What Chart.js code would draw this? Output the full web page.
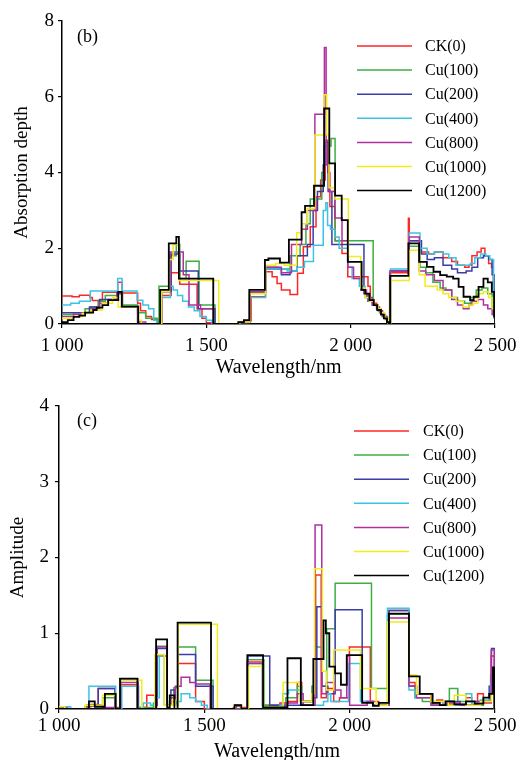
<!DOCTYPE html>
<html>
<head>
<meta charset="utf-8">
<script src="https://cdn.jsdelivr.net/npm/chart.js@4"></script>
<style>
  html, body { margin: 0; padding: 0; background: #fff; overflow: hidden; width: 516px; height: 760px; }
  canvas { position: absolute; left: 0; }
  #chart-b { top: 0; }
  #chart-c { top: 380px; }
</style>
</head>
<body>
<canvas id="chart-b" width="516" height="380"></canvas>
<canvas id="chart-c" width="516" height="390"></canvas>
<script>
const seriesNames = ["CK(0)", "Cu(100)", "Cu(200)", "Cu(400)", "Cu(800)", "Cu(1000)", "Cu(1200)"];
const seriesColors = ["#ff2626", "#3cae44", "#3a3ca8", "#3cc4e4", "#b0309e", "#f2ec1a", "#000000"];
const xTicks = [1000, 1500, 2000, 2500];

// (b) absorption depth, [wavelength nm, value] steps
const depthCK = [[1000,0.74],[1035,0.72],[1060,0.76],[1097,0.70],[1105,0.62],[1140,0.84],[1193,1.1],[1208,0.82],[1262,0.55],[1272,0.35],[1290,0.2],[1310,0.12],[1335,0],[1346,0.75],[1378,1.35],[1408,1.05],[1468,0.4],[1485,0.15],[1500,0.03],[1520,0],[1610,0.04],[1640,0.08],[1655,0.72],[1705,1.38],[1728,1.25],[1745,1.07],[1760,0.9],[1790,0.78],[1816,1.34],[1836,2.04],[1860,2.57],[1880,3.36],[1896,3.8],[1912,4.85],[1921,4.0],[1928,3.1],[1946,2.2],[1970,1.86],[1990,1.25],[2060,1.0],[2068,0.65],[2080,0.55],[2090,0.45],[2100,0.35],[2110,0.25],[2120,0.15],[2128,0.05],[2135,1.35],[2200,2.79],[2203,2.2],[2245,1.9],[2270,1.85],[2290,1.9],[2320,1.75],[2350,1.65],[2370,1.55],[2395,1.5],[2410,1.55],[2420,1.8],[2438,1.9],[2452,2.0],[2465,1.8],[2478,1.6],[2488,1.5],[2494,0.6],[2498,0.2],[2500,0.2]];
const depthCu100 = [[1000,0.25],[1040,0.3],[1080,0.4],[1100,0.45],[1125,0.6],[1150,0.75],[1190,0.85],[1210,0.5],[1262,0.3],[1290,0.15],[1330,0],[1336,1.0],[1372,1.8],[1396,2.1],[1408,1.2],[1430,1.66],[1475,0.5],[1530,0],[1615,0.05],[1650,0.85],[1705,1.5],[1750,1.45],[1790,1.8],[1825,2.1],[1845,2.65],[1860,3.3],[1900,4.0],[1908,4.7],[1932,4.9],[1946,2.2],[2078,0.5],[2090,0.4],[2100,0.3],[2110,0.2],[2120,0.12],[2130,0],[2138,1.4],[2203,2.05],[2240,1.5],[2260,1.35],[2285,1.1],[2310,0.95],[2330,0.9],[2350,0.7],[2370,0.6],[2395,0.55],[2415,0.7],[2435,0.9],[2455,0.95],[2475,0.8],[2490,0.4],[2497,0.15],[2500,0.15]];
const depthCu200 = [[1000,0.3],[1080,0.3],[1095,0.45],[1130,0.65],[1190,0.85],[1208,0.45],[1262,0],[1345,0.85],[1378,1.85],[1408,1.4],[1472,0.4],[1530,0],[1615,0.05],[1650,0.85],[1705,1.45],[1760,1.3],[1790,1.4],[1815,1.8],[1850,2.1],[1870,3.0],[1885,3.5],[1905,4.2],[1912,4.8],[1922,3.5],[1935,2.1],[2046,0.8],[2060,0.6],[2075,0.5],[2090,0.4],[2105,0.3],[2115,0.2],[2125,0.1],[2132,0],[2137,1.4],[2203,2.2],[2245,1.85],[2265,1.7],[2290,1.75],[2320,1.55],[2350,1.45],[2370,1.35],[2400,1.4],[2420,1.5],[2440,1.75],[2460,1.8],[2478,1.7],[2490,1.3],[2497,0.2],[2500,0.2]];
const depthCu400 = [[1000,0.5],[1030,0.55],[1060,0.6],[1098,0.87],[1193,1.2],[1208,0.87],[1260,0.63],[1280,0.5],[1300,0.4],[1318,0.1],[1328,0],[1345,0.7],[1375,1.0],[1385,0.9],[1400,0.75],[1418,0.6],[1438,0.45],[1458,0.35],[1478,0.2],[1500,0.1],[1520,0],[1615,0.04],[1650,0.7],[1705,1.45],[1780,1.4],[1815,1.5],[1840,1.65],[1871,2.08],[1905,3.0],[1914,3.2],[1920,2.6],[1930,2.5],[1945,2.3],[1960,2.0],[1990,1.5],[2005,1.2],[2030,1.0],[2050,0.7],[2065,0.6],[2080,0.5],[2095,0.4],[2105,0.3],[2115,0.2],[2125,0.1],[2132,0],[2138,1.45],[2203,2.4],[2240,2.0],[2265,1.85],[2290,1.9],[2320,1.85],[2340,1.75],[2365,1.55],[2400,1.55],[2415,1.6],[2430,1.75],[2450,1.85],[2468,1.8],[2482,1.7],[2495,0.5],[2500,0.1]];
const depthCu800 = [[1000,0.2],[1040,0.25],[1070,0.3],[1100,0.4],[1130,0.55],[1160,0.65],[1190,0.8],[1208,0.45],[1262,0.05],[1290,0],[1345,0.85],[1375,1.9],[1420,1.3],[1440,0.5],[1480,0.4],[1525,0],[1615,0.05],[1650,0.85],[1705,1.5],[1760,1.35],[1795,2.1],[1830,2.5],[1850,3.0],[1876,5.54],[1909,7.3],[1915,4.2],[1926,3.5],[1945,2.8],[1970,2.2],[1990,1.5],[2010,1.2],[2035,0.9],[2055,0.7],[2075,0.5],[2095,0.35],[2110,0.2],[2125,0.05],[2132,0],[2137,1.4],[2203,2.3],[2238,1.4],[2260,1.3],[2290,1.15],[2320,0.9],[2350,0.65],[2370,0.5],[2390,0.4],[2410,0.5],[2420,0.6],[2440,0.65],[2460,0.5],[2475,0.4],[2490,0.25],[2500,0]];
const depthCu1000 = [[1000,0.15],[1040,0.2],[1070,0.28],[1100,0.37],[1140,0.55],[1175,0.7],[1195,0.45],[1265,0.1],[1275,0],[1345,0.85],[1372,1.7],[1385,2.1],[1405,1.15],[1543,0],[1615,0.05],[1650,0.8],[1705,1.55],[1740,1.6],[1770,1.55],[1813,2.41],[1830,2.65],[1850,3.05],[1876,4.99],[1908,6.05],[1917,5.0],[1925,3.6],[1946,3.3],[1992,1.78],[2035,0.95],[2050,0.7],[2065,0.6],[2080,0.5],[2095,0.4],[2105,0.3],[2118,0.15],[2130,0],[2138,1.15],[2203,1.95],[2238,1.3],[2258,1.0],[2300,0.9],[2320,0.8],[2340,0.7],[2365,0.6],[2390,0.45],[2410,0.5],[2425,0.55],[2440,0.8],[2460,0.85],[2478,0.7],[2490,0.4],[2500,0]];
const depthCu1200 = [[1000,0.05],[1020,0.1],[1040,0.19],[1060,0.22],[1080,0.3],[1108,0.37],[1120,0.43],[1140,0.5],[1160,0.63],[1195,0.85],[1207,0.46],[1264,0],[1340,0.9],[1370,2.13],[1396,2.3],[1405,1.2],[1524,0],[1611,0.05],[1630,0.1],[1649,0.9],[1703,1.69],[1715,1.73],[1755,1.62],[1786,2.23],[1830,2.95],[1842,3.12],[1873,3.65],[1908,5.69],[1926,4.24],[1946,3.39],[1969,2.74],[1990,1.64],[2038,0.9],[2050,0.8],[2065,0.63],[2080,0.5],[2092,0.37],[2105,0.25],[2115,0.15],[2126,0.05],[2132,0],[2137,1.27],[2200,2.13],[2237,1.64],[2264,1.51],[2287,1.38],[2310,1.29],[2333,1.25],[2355,1.2],[2374,0.98],[2391,0.72],[2414,0.63],[2426,0.72],[2443,0.98],[2460,1.2],[2475,1.1],[2489,0.85],[2497,0.2],[2500,0]];

// (c) amplitude
const ampCK = [[1000,0.02],[1030,0],[1090,0.03],[1110,0.06],[1135,0.27],[1193,0],[1210,0.32],[1270,0.02],[1302,0.18],[1331,0.05],[1336,0.7],[1372,0.05],[1385,0.15],[1398,0.05],[1410,0.6],[1470,0.1],[1500,0],[1600,0.02],[1610,0.05],[1625,0.02],[1648,0.62],[1700,0.05],[1760,0.08],[1790,0.1],[1820,0.35],[1835,0.1],[1870,0.2],[1883,1.77],[1902,0.15],[1920,0.27],[1945,0.1],[1965,0.15],[1999,0.82],[2071,0.1],[2100,0.05],[2135,1.3],[2204,0.35],[2225,0.2],[2280,0.08],[2300,0.12],[2320,0.06],[2400,0.15],[2420,0.05],[2440,0.2],[2460,0.08],[2487,0.7],[2498,0],[2500,0]];
const ampCu100 = [[1000,0],[1095,0.05],[1150,0.15],[1195,0],[1212,0.38],[1270,0.02],[1325,0.08],[1336,0.83],[1372,0.05],[1390,0.1],[1395,0.28],[1410,0.82],[1470,0.38],[1530,0],[1605,0.05],[1625,0],[1648,0.65],[1705,0.05],[1780,0.15],[1820,0.3],[1835,0.1],[1870,0.3],[1881,0.82],[1904,0.3],[1921,1.06],[1950,1.66],[2075,0.27],[2130,1.25],[2204,0.3],[2225,0.15],[2250,0.1],[2300,0.05],[2343,0.27],[2372,0.1],[2420,0.05],[2460,0.1],[2485,0.45],[2498,0],[2500,0]];
const ampCu200 = [[1000,0.02],[1020,0],[1100,0.05],[1135,0.27],[1193,0],[1210,0.4],[1270,0],[1330,0.05],[1338,0.8],[1372,0.05],[1385,0.25],[1398,0.05],[1410,0.72],[1470,0.3],[1530,0],[1605,0.04],[1625,0],[1650,0.7],[1725,0.05],[1800,0.05],[1840,0.1],[1870,0.15],[1887,1.35],[1904,0.3],[1925,0.2],[1950,1.31],[2043,0.1],[2080,0.05],[2135,1.3],[2204,0.3],[2230,0.2],[2285,0.05],[2330,0.1],[2380,0.05],[2430,0.1],[2480,0.3],[2488,0.8],[2498,0],[2500,0]];
const ampCu400 = [[1000,0],[1020,0.03],[1040,0],[1103,0.3],[1195,0],[1216,0.3],[1274,0],[1290,0.08],[1315,0.05],[1330,0.15],[1345,0.7],[1362,0.05],[1380,0.1],[1400,0.05],[1405,0.1],[1420,0.2],[1450,0.15],[1470,0.1],[1490,0.05],[1510,0],[1648,0.6],[1700,0.02],[1760,0.05],[1770,0.2],[1790,0.25],[1835,0.05],[1870,0.05],[1910,0.1],[1925,0.2],[1935,0.1],[1996,0.6],[2037,0.1],[2080,0.05],[2130,1.33],[2204,0.25],[2225,0.15],[2280,0.05],[2320,0.1],[2360,0.05],[2400,0.2],[2420,0.05],[2450,0.12],[2485,0.35],[2498,0],[2500,0]];
const ampCu800 = [[1000,0],[1100,0.04],[1130,0.05],[1150,0.02],[1212,0.35],[1272,0],[1336,0.82],[1372,0.05],[1385,0.1],[1400,0.3],[1420,0.42],[1450,0.35],[1470,0.33],[1520,0],[1648,0.6],[1702,0.03],[1780,0.08],[1820,0.2],[1840,0.05],[1881,2.43],[1904,0.2],[1920,0.35],[1950,0.25],[1970,0.15],[1990,0.7],[2000,0.05],[2060,0.1],[2080,0.05],[2135,1.2],[2204,0.3],[2230,0.15],[2280,0.05],[2330,0.08],[2380,0.05],[2440,0.1],[2487,0.78],[2498,0],[2500,0]];
const ampCu1000 = [[1000,0.03],[1020,0],[1090,0.05],[1150,0.18],[1195,0],[1210,0.38],[1285,0],[1330,0.72],[1362,0.05],[1390,0.12],[1400,0.05],[1410,1.12],[1545,0],[1605,0.05],[1625,0],[1652,0.56],[1702,0.03],[1771,0.35],[1829,0.1],[1870,0.2],[1879,1.85],[1906,0.5],[1920,0.25],[1945,0.78],[2037,0.27],[2091,0.05],[2130,1.15],[2204,0.45],[2230,0.2],[2280,0.1],[2340,0.05],[2360,0.18],[2400,0.05],[2450,0.1],[2488,0.2],[2498,0],[2500,0]];
const ampCu1200 = [[1000,0],[1103,0.1],[1123,0.03],[1158,0.2],[1195,0],[1210,0.4],[1270,0],[1334,0.92],[1372,0.02],[1381,0.18],[1397,0],[1408,1.14],[1523,0],[1604,0.05],[1627,0],[1648,0.71],[1702,0.02],[1786,0.67],[1832,0.05],[1875,0.66],[1910,1.17],[1918,1.0],[1930,0.56],[1950,0.47],[1970,0.32],[1990,0.71],[2043,0.08],[2080,0.04],[2100,0.08],[2135,1.26],[2204,0.43],[2241,0.2],[2285,0.08],[2310,0.05],[2330,0.1],[2360,0.06],[2400,0.1],[2430,0.07],[2460,0.15],[2480,0.2],[2493,0.55],[2498,0],[2500,0]];

const FONT = "'Liberation Serif', 'Times New Roman', serif";

function fmtThousands(v) {
  return String(v).replace(/\B(?=(\d{3})+(?!\d))/g, " ");
}

function makeDatasets(list) {
  return list.map((pts, i) => ({
    label: seriesNames[i],
    data: pts.map(p => ({ x: p[0], y: p[1] })),
    borderColor: seriesColors[i],
    borderWidth: i === 6 ? 1.8 : 1.5,
    stepped: true,
    pointRadius: 0,
    fill: false,
    order: 6 - i,
  }));
}

// draws the panel tag and the in-plot legend
const overlay = {
  id: "overlay",
  afterDraw(chart, args, o) {
    const ctx = chart.ctx;
    ctx.save();
    ctx.fillStyle = "#000";
    ctx.textBaseline = "middle";
    ctx.font = "18px " + FONT;
    ctx.fillText(o.tag, o.tagX, o.tagY);
    ctx.font = "16px " + FONT;
    chart.data.datasets.forEach((ds, i) => {
      const y = o.legendY + i * o.legendGap;
      ctx.strokeStyle = ds.borderColor;
      ctx.lineWidth = 1.5;
      ctx.beginPath();
      ctx.moveTo(o.lineX0, y);
      ctx.lineTo(o.lineX1, y);
      ctx.stroke();
      ctx.fillText(ds.label, o.textX, y + 1);
    });
    ctx.restore();
  }
};

function buildChart(canvas, cfg) {
  return new Chart(canvas, {
    type: "line",
    data: { datasets: makeDatasets(cfg.series) },
    plugins: [overlay],
    options: {
      responsive: false,
      animation: false,
      devicePixelRatio: 1,
      layout: { padding: { top: cfg.top, right: 21, left: 0, bottom: 0 } },
      plugins: {
        legend: { display: false },
        tooltip: { enabled: false },
        overlay: cfg.overlay,
      },
      scales: {
        x: {
          type: "linear",
          min: 1000, max: 2500,
          afterBuildTicks: axis => { axis.ticks = xTicks.map(v => ({ value: v })); },
          afterFit: axis => { axis.height = cfg.xHeight; axis.paddingLeft = 0; axis.paddingRight = 0; },
          border: { display: true, color: "#000", width: 1.5 },
          grid: { display: true, drawOnChartArea: false, drawTicks: true, tickLength: 4, color: "#000", lineWidth: 1.2 },
          ticks: { color: "#000", font: { family: FONT, size: 19 }, padding: cfg.xTickPad, maxRotation: 0, callback: v => fmtThousands(v) },
          title: { display: true, text: "Wavelength/nm", color: "#000", font: { family: FONT, size: 20 }, padding: { top: 0, bottom: cfg.xTitlePad } },
        },
        y: {
          min: 0, max: cfg.yMax,
          ticks: { stepSize: cfg.yStep, color: "#000", font: { family: FONT, size: 19 }, padding: cfg.yTickPad },
          afterFit: axis => { axis.width = cfg.yWidth; axis.paddingTop = 0; axis.paddingBottom = 0; },
          border: { display: true, color: "#000", width: 1.5 },
          grid: { display: true, drawOnChartArea: false, drawTicks: true, tickLength: 4, color: "#000", lineWidth: 1.2 },
          title: { display: true, text: cfg.yTitle, color: "#000", font: { family: FONT, size: 19 }, padding: { top: cfg.yTitlePad, bottom: 0 } },
        },
      },
    },
  });
}

buildChart(document.getElementById("chart-b"), {
  series: [depthCK, depthCu100, depthCu200, depthCu400, depthCu800, depthCu1000, depthCu1200],
  top: 21, xHeight: 56, yWidth: 62, yMax: 8, yStep: 2,
  xTickPad: 7, xTitlePad: 0, yTickPad: 4, yTitlePad: 11,
  yTitle: "Absorption depth",
  overlay: { tag: "(b)", tagX: 77, tagY: 37, legendY: 46, legendGap: 24.1, lineX0: 357, lineX1: 412, textX: 425 },
});

buildChart(document.getElementById("chart-c"), {
  series: [ampCK, ampCu100, ampCu200, ampCu400, ampCu800, ampCu1000, ampCu1200],
  top: 26, xHeight: 61, yWidth: 59, yMax: 4, yStep: 1,
  xTickPad: 2, xTitlePad: 6, yTickPad: 6, yTitlePad: 7,
  yTitle: "Amplitude",
  overlay: { tag: "(c)", tagX: 77, tagY: 41, legendY: 51, legendGap: 24.1, lineX0: 354, lineX1: 409, textX: 423 },
});
</script>
</body>
</html>
